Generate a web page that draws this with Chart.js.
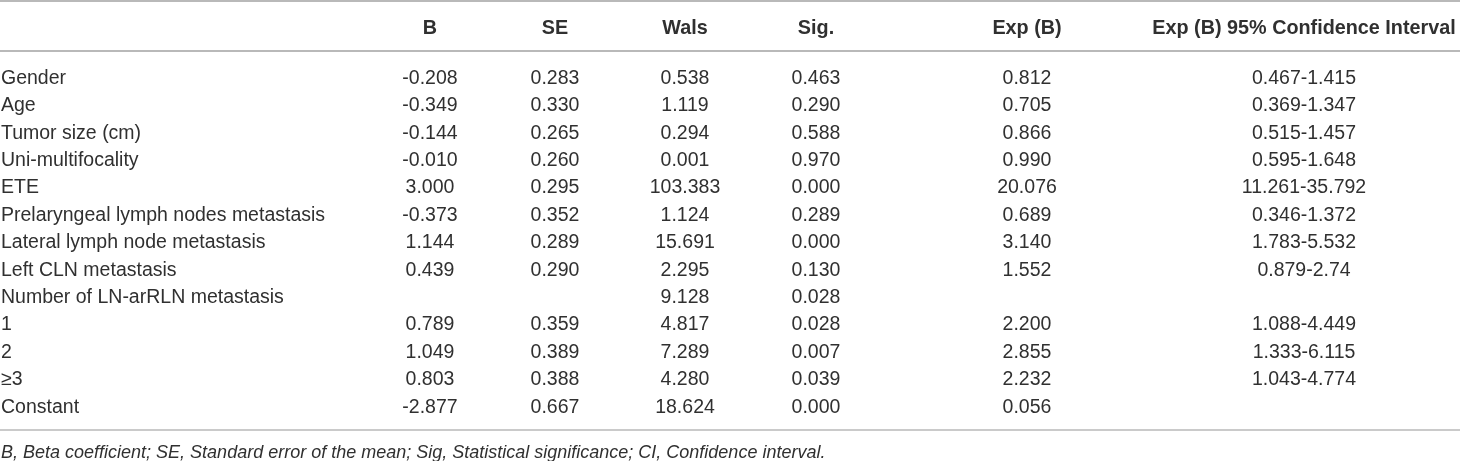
<!DOCTYPE html>
<html>
<head>
<meta charset="utf-8">
<script src="https://cdn.jsdelivr.net/npm/chart.js@4.4.0/dist/chart.umd.min.js"></script>
<style>
  html, body { margin: 0; padding: 0; background: #fff; }
  #wrap { width: 1460px; height: 461px; }
</style>
</head>
<body>
<div id="wrap"><canvas id="tbl"></canvas></div>
<script>
// table contents
const headers = ['B', 'SE', 'Wals', 'Sig.', 'Exp (B)', 'Exp (B) 95% Confidence Interval'];
const variables = ['Gender', 'Age', 'Tumor size (cm)', 'Uni-multifocality', 'ETE',
  'Prelaryngeal lymph nodes metastasis', 'Lateral lymph node metastasis', 'Left CLN metastasis',
  'Number of LN-arRLN metastasis', '1', '2', '\u22653', 'Constant'];
const bVals    = ['-0.208', '-0.349', '-0.144', '-0.010', '3.000', '-0.373', '1.144', '0.439', '', '0.789', '1.049', '0.803', '-2.877'];
const seVals   = ['0.283', '0.330', '0.265', '0.260', '0.295', '0.352', '0.289', '0.290', '', '0.359', '0.389', '0.388', '0.667'];
const walsVals = ['0.538', '1.119', '0.294', '0.001', '103.383', '1.124', '15.691', '2.295', '9.128', '4.817', '7.289', '4.280', '18.624'];
const sigVals  = ['0.463', '0.290', '0.588', '0.970', '0.000', '0.289', '0.000', '0.130', '0.028', '0.028', '0.007', '0.039', '0.000'];
const expVals  = ['0.812', '0.705', '0.866', '0.990', '20.076', '0.689', '3.140', '1.552', '', '2.200', '2.855', '2.232', '0.056'];
const ciVals   = ['0.467-1.415', '0.369-1.347', '0.515-1.457', '0.595-1.648', '11.261-35.792', '0.346-1.372',
  '1.783-5.532', '0.879-2.74', '', '1.088-4.449', '1.333-6.115', '1.043-4.774', ''];
const footnote = 'B, Beta coefficient; SE, Standard error of the mean; Sig, Statistical significance; CI, Confidence interval.';

// layout (x in pixels, y in row units)
const colX = [430, 555, 685, 816, 1027, 1304];
const labelX = 1;
const headerRow = -1.825;
const footRow = 13.67;
const rules = [
  { y: -2.83, w: 2.2 },
  { y: -1.0, w: 2 },
  { y: 12.83, w: 1.6 }
];
const ink = '#303030';
const ruleColor = '#b9b9b9';
const font = '"Liberation Sans", Arial, sans-serif';

const columns = [bVals, seVals, walsVals, sigVals, expVals, ciVals];

const tableText = {
  id: 'tableText',
  afterDatasetsDraw(chart) {
    const { ctx, scales: { x, y } } = chart;
    ctx.save();
    ctx.fillStyle = ink;
    ctx.textBaseline = 'middle';

    ctx.font = 'bold 19.8px ' + font;
    ctx.textAlign = 'center';
    headers.forEach((h, j) => ctx.fillText(h, x.getPixelForValue(colX[j]), y.getPixelForValue(headerRow)));

    ctx.font = '19.5px ' + font;
    variables.forEach((v, i) => {
      const py = y.getPixelForValue(i);
      ctx.textAlign = 'left';
      ctx.fillText(v, x.getPixelForValue(labelX), py);
      ctx.textAlign = 'center';
      columns.forEach((col, j) => {
        if (col[i]) ctx.fillText(col[i], x.getPixelForValue(colX[j]), py);
      });
    });

    ctx.font = 'italic 18px ' + font;
    ctx.textAlign = 'left';
    ctx.fillText(footnote, x.getPixelForValue(labelX), y.getPixelForValue(footRow));
    ctx.restore();
  }
};

new Chart(document.getElementById('tbl'), {
  type: 'line',
  data: {
    datasets: rules.map(r => ({
      data: [{ x: 0, y: r.y }, { x: 1460, y: r.y }],
      borderColor: ruleColor,
      borderWidth: r.w,
      pointRadius: 0,
      clip: false
    }))
  },
  options: {
    responsive: true,
    maintainAspectRatio: false,
    animation: false,
    layout: { padding: 0 },
    plugins: { legend: { display: false }, tooltip: { enabled: false } },
    scales: {
      x: { type: 'linear', min: 0, max: 1460, display: false },
      y: { type: 'linear', min: -2.865, max: 13.96, reverse: true, display: false }
    }
  },
  plugins: [tableText]
});
</script>
</body>
</html>
